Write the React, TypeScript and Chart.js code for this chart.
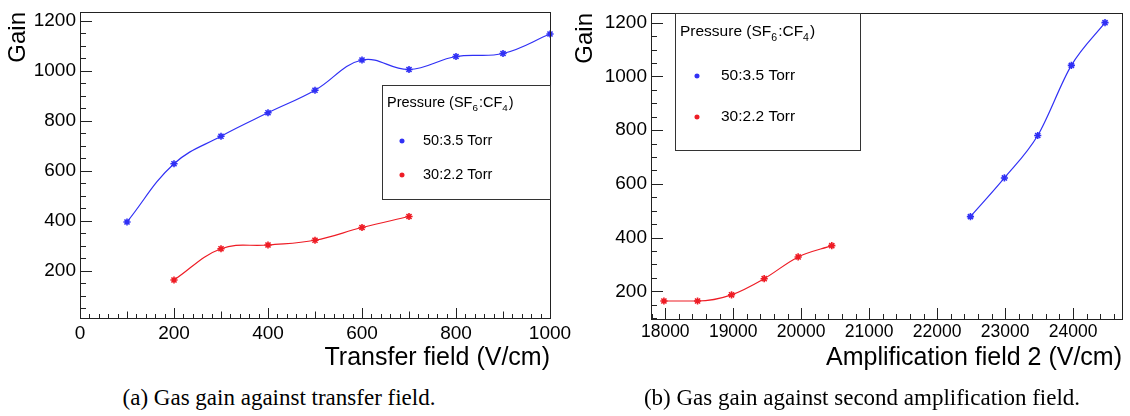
import React, { useEffect, useRef } from "react";
import { Chart, registerables } from "chart.js";

Chart.register(...registerables);

// ---------- data ----------
// Panel (a): gain vs transfer field
const transferField50 = [100, 200, 300, 400, 500, 600, 700, 800, 900, 1000];
const gainTransfer50 = [395, 628, 738, 832, 922, 1043, 1005, 1057, 1069, 1147];
const transferField30 = [200, 300, 400, 500, 600, 700];
const gainTransfer30 = [163, 288, 303, 322, 373, 417];

// Panel (b): gain vs second amplification field
const ampField50 = [22490, 22990, 23480, 23975, 24470];
const gainAmp50 = [478, 622, 780, 1041, 1200];
const ampField30 = [17980, 18475, 18975, 19455, 19955, 20450];
const gainAmp30 = [164, 164, 187, 247, 328, 370];

// tick labels
const gainTicks = [200, 400, 600, 800, 1000, 1200];
const transferTicks = [0, 200, 400, 600, 800, 1000];
const ampTicks = [18000, 19000, 20000, 21000, 22000, 23000, 24000];

const seriesLabels = ["50:3.5 Torr", "30:2.2 Torr"];
const legendHeader = ["Pressure (SF", "6", ":CF", "4", ")"];
const xTitles = ["Transfer field (V/cm)", "Amplification field 2 (V/cm)"];
const yTitle = "Gain";
const captions = [
  "(a) Gas gain against transfer field.",
  "(b) Gas gain against second amplification field.",
];

// ---------- styling ----------
const SANS = "'Liberation Sans', Arial, Helvetica, sans-serif";
const SERIF = "'Liberation Serif', 'Times New Roman', serif";
const BLUE = "#3030f5";
const RED = "#ee1c25";
const FRAME = "#222";

const toPts = (xs: number[], ys: number[]) => xs.map((x, i) => ({ x, y: ys[i] }));

function drawStar(ctx: CanvasRenderingContext2D, x: number, y: number, r: number) {
  const d = r * Math.SQRT1_2;
  ctx.beginPath();
  ctx.moveTo(x - r, y); ctx.lineTo(x + r, y);
  ctx.moveTo(x, y - r); ctx.lineTo(x, y + r);
  ctx.moveTo(x - d, y - d); ctx.lineTo(x + d, y + d);
  ctx.moveTo(x - d, y + d); ctx.lineTo(x + d, y - d);
  ctx.stroke();
}

const rootFrame = {
  id: "rootFrame",
  afterDraw(chart: any, _args: any, opts: any) {
    const { ctx, chartArea: a, scales } = chart;
    const xs = scales.x, ys = scales.y;
    ctx.save();
    ctx.strokeStyle = FRAME;
    ctx.lineWidth = 1;
    ctx.strokeRect(Math.round(a.left) + 0.5, Math.round(a.top) + 0.5,
      Math.round(a.right - a.left), Math.round(a.bottom - a.top));

    const isMult = (v: number, s: number) => Math.abs(v / s - Math.round(v / s)) < 1e-6;
    // x ticks (inward from bottom)
    const xt = opts.xTicks;
    for (let k = Math.ceil(xs.min / xt.minor); k * xt.minor <= xs.max + 1e-9; k++) {
      const v = k * xt.minor;
      let len = xt.lenMinor;
      if (isMult(v, xt.major)) len = xt.lenMajor;
      else if (xt.mid && isMult(v, xt.mid)) len = xt.lenMid;
      const px = Math.round(xs.getPixelForValue(v)) + 0.5;
      ctx.beginPath();
      ctx.moveTo(px, a.bottom);
      ctx.lineTo(px, a.bottom - len);
      ctx.stroke();
    }
    // y ticks (inward from left)
    const yt = opts.yTicks;
    for (let k = Math.ceil(ys.min / yt.minor); k * yt.minor <= ys.max + 1e-9; k++) {
      const v = k * yt.minor;
      const len = isMult(v, yt.major) ? yt.lenMajor : yt.lenMinor;
      const py = Math.round(ys.getPixelForValue(v)) + 0.5;
      ctx.beginPath();
      ctx.moveTo(a.left, py);
      ctx.lineTo(a.left + len, py);
      ctx.stroke();
    }

    // legend box
    const L = opts.legend;
    ctx.fillStyle = "#fff";
    ctx.fillRect(L.x1, L.y1, L.x2 - L.x1, L.y2 - L.y1);
    ctx.strokeStyle = "#333";
    ctx.strokeRect(L.x1 + 0.5, L.y1 + 0.5, L.x2 - L.x1, L.y2 - L.y1);
    ctx.fillStyle = "#000";
    ctx.textBaseline = "middle";
    ctx.textAlign = "left";
    let cx = L.hx;
    legendHeader.forEach((part, i) => {
      const sub = i % 2 === 1;
      const size = sub ? L.fs * 0.68 : L.fs;
      ctx.font = `${size}px ${SANS}`;
      ctx.fillText(part, cx, L.hy + (sub ? L.fs * 0.38 : 0));
      cx += ctx.measureText(part).width + (sub ? 1 : 0);
    });
    chart.data.datasets.forEach((ds: any, i: number) => {
      const yy = L.ey[i];
      ctx.strokeStyle = ds.borderColor;
      ctx.lineWidth = 1.4;
      drawStar(ctx, L.mx, yy, 2.6);
      ctx.fillStyle = "#000";
      ctx.font = `${L.fs}px ${SANS}`;
      ctx.fillText(ds.label, L.lx, yy);
    });
    ctx.restore();
  },
};

function makeConfig(p: any): any {
  const ds = (label: string, data: any[], color: string) => ({
    label,
    data,
    borderColor: color,
    backgroundColor: color,
    pointBorderColor: color,
    pointBackgroundColor: color,
    pointStyle: "star",
    pointRadius: 3.6,
    pointBorderWidth: 1.6,
    borderWidth: 1.2,
    tension: 0.4,
    cubicInterpolationMode: p.interp,
    fill: false,
    clip: false,
  });
  return {
    type: "line",
    data: {
      datasets: [
        ds(seriesLabels[0], p.d50, BLUE),
        ds(seriesLabels[1], p.d30, RED),
      ],
    },
    options: {
      animation: false,
      responsive: false,
      maintainAspectRatio: false,
      layout: { padding: p.padding },
      plugins: {
        legend: { display: false },
        tooltip: { enabled: false },
        rootFrame: p.frame,
      },
      scales: {
        x: {
          type: "linear",
          min: p.xMin,
          max: p.xMax,
          grid: { display: false, drawTicks: false },
          border: { display: false },
          afterBuildTicks: (s: any) => {
            s.ticks = p.xTicks.map((v: number) => ({ value: v }));
          },
          ticks: {
            autoSkip: false,
            maxRotation: 0,
            padding: p.xTickPad,
            color: "#000",
            font: { family: SANS, size: p.xTickSize },
            callback: (v: number) => String(v),
          },
          title: {
            display: true,
            text: p.xTitle,
            align: "end",
            color: "#000",
            font: { family: SANS, size: 25 },
            padding: { top: 0, bottom: p.xTitlePad },
          },
          afterFit: (s: any) => {
            s.height = p.xAxisH;
            s.paddingLeft = 0;
            s.paddingRight = 0;
          },
        },
        y: {
          type: "linear",
          min: p.yMin,
          max: p.yMax,
          grid: { display: false, drawTicks: false },
          border: { display: false },
          afterBuildTicks: (s: any) => {
            s.ticks = gainTicks.map((v: number) => ({ value: v }));
          },
          ticks: {
            padding: 4,
            color: "#000",
            font: { family: SANS, size: 19 },
            callback: (v: number) => String(v),
          },
          title: {
            display: true,
            text: yTitle,
            align: "end",
            color: "#000",
            font: { family: SANS, size: 24 },
            padding: { top: p.yTitlePad, bottom: 0 },
          },
          afterFit: (s: any) => {
            s.width = p.yAxisW;
            s.paddingTop = 0;
            s.paddingBottom = 0;
          },
        },
      },
    },
    plugins: [rootFrame],
  };
}

const panelA = {
  d50: toPts(transferField50, gainTransfer50),
  d30: toPts(transferField30, gainTransfer30),
  interp: "default",
  xMin: 0, xMax: 1000, xTicks: transferTicks,
  yMin: 11, yMax: 1235,
  xTitle: xTitles[0],
  padding: { left: 0, right: 50, top: 12, bottom: 0 },
  yAxisW: 80, xAxisH: 62,
  xTickPad: 4, xTickSize: 19, xTitlePad: 7, yTitlePad: 4,
  frame: {
    xTicks: { minor: 20, mid: 100, major: 200, lenMinor: 4, lenMid: 6.5, lenMajor: 10 },
    yTicks: { minor: 50, major: 200, lenMinor: 6, lenMajor: 12 },
    legend: { x1: 382, y1: 85, x2: 550, y2: 199, hx: 387, hy: 103, mx: 402, lx: 423, ey: [141, 175], fs: 14.5 },
  },
};

const panelB = {
  d50: toPts(ampField50, gainAmp50),
  d30: toPts(ampField30, gainAmp30),
  interp: "monotone",
  xMin: 17790, xMax: 24720, xTicks: ampTicks,
  yMin: 97, yMax: 1236,
  xTitle: xTitles[1],
  padding: { left: 0, right: 8, top: 13, bottom: 0 },
  yAxisW: 86, xAxisH: 61,
  xTickPad: 3, xTickSize: 17.5, xTitlePad: 7, yTitlePad: 6,
  frame: {
    xTicks: { minor: 200, mid: 0, major: 1000, lenMinor: 5, lenMid: 5, lenMajor: 11 },
    yTicks: { minor: 50, major: 200, lenMinor: 6, lenMajor: 12 },
    legend: { x1: 110, y1: 13, x2: 295, y2: 150, hx: 115, hy: 32, mx: 132, lx: 156, ey: [76, 117], fs: 15.5 },
  },
};

function ChartCanvas({ cfg, left, width, height }: any) {
  const ref = useRef<HTMLCanvasElement | null>(null);
  useEffect(() => {
    if (!ref.current) return;
    const chart = new Chart(ref.current, makeConfig(cfg));
    return () => chart.destroy();
  }, [cfg]);
  return (
    <canvas
      ref={ref}
      width={width}
      height={height}
      style={{ position: "absolute", left, top: 0, width, height }}
    />
  );
}

export default function App() {
  const capStyle: React.CSSProperties = {
    position: "absolute",
    top: 385,
    transform: "translateX(-50%)",
    whiteSpace: "nowrap",
    fontFamily: SERIF,
    fontSize: 23,
    lineHeight: "26px",
    color: "#000",
  };
  return (
    <div
      style={{
        position: "fixed",
        left: 0,
        top: 0,
        width: 1130,
        height: 416,
        background: "#fff",
        overflow: "hidden",
      }}
    >
      <ChartCanvas cfg={panelA} left={0} width={600} height={380} />
      <ChartCanvas cfg={panelB} left={565} width={565} height={380} />
      <div style={{ ...capStyle, left: 279 }}>{captions[0]}</div>
      <div style={{ ...capStyle, left: 862 }}>{captions[1]}</div>
    </div>
  );
}
